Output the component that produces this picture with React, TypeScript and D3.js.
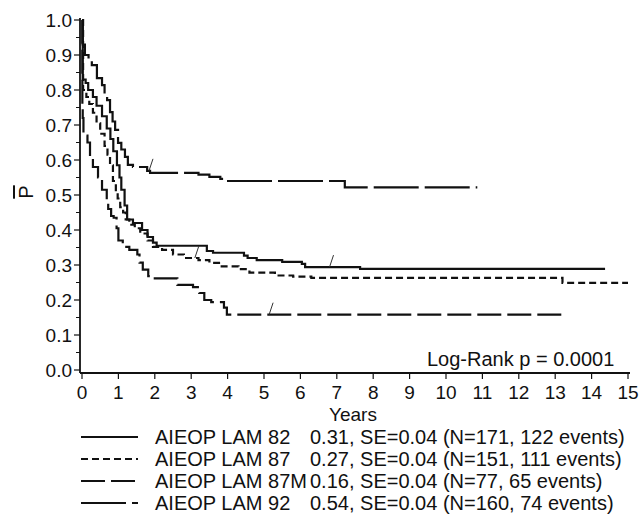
import React from "react";
import * as d3 from "d3";

// ---- data (time in years, event-free survival probability) ----
const yearTicks = d3.range(0, 16);
const probTicks = d3.range(0, 11).map((d) => d / 10);
const probMinor = d3.range(0, 10).map((d) => d / 10 + 0.05);

const lam82: [number, number][] = [
  [0, 1], [0.02, 0.83], [0.1, 0.82], [0.17, 0.8], [0.3, 0.78], [0.4, 0.755],
  [0.55, 0.725], [0.68, 0.69], [0.78, 0.66], [0.86, 0.625], [0.96, 0.585],
  [1.03, 0.55], [1.08, 0.515], [1.17, 0.47], [1.24, 0.43], [1.4, 0.42],
  [1.65, 0.4], [1.8, 0.38], [1.95, 0.364], [2.05, 0.355], [3.43, 0.34],
  [3.6, 0.335], [4.45, 0.327], [4.55, 0.32], [4.8, 0.314], [5.5, 0.309],
  [6.04, 0.303], [6.13, 0.294], [7.64, 0.289], [14.37, 0.289],
];

const lam87: [number, number][] = [
  [0, 1], [0.03, 0.8], [0.12, 0.78], [0.2, 0.76], [0.3, 0.735], [0.4, 0.705],
  [0.5, 0.675], [0.62, 0.64], [0.7, 0.615], [0.77, 0.585], [0.85, 0.54],
  [0.93, 0.51], [0.98, 0.49], [1.05, 0.465], [1.13, 0.45], [1.2, 0.43],
  [1.3, 0.415], [1.45, 0.405], [1.6, 0.39], [1.8, 0.37], [1.95, 0.352],
  [2.2, 0.343], [2.5, 0.33], [2.8, 0.32], [3.2, 0.314], [3.5, 0.306],
  [3.8, 0.296], [4.3, 0.288], [4.6, 0.278], [5.3, 0.27], [5.8, 0.267],
  [6.3, 0.263], [13.2, 0.249], [15, 0.249],
];

const lam87m: [number, number][] = [
  [0, 1], [0.01, 0.75], [0.02, 0.72], [0.04, 0.67], [0.15, 0.65], [0.22, 0.61],
  [0.3, 0.58], [0.44, 0.55], [0.55, 0.515], [0.68, 0.485], [0.72, 0.46],
  [0.8, 0.44], [0.87, 0.435], [0.95, 0.405], [1.0, 0.37], [1.12, 0.352],
  [1.3, 0.343], [1.52, 0.33], [1.58, 0.307], [1.67, 0.287], [1.82, 0.268],
  [1.9, 0.262], [2.62, 0.243], [3.05, 0.237], [3.22, 0.22], [3.36, 0.2],
  [3.55, 0.194], [3.9, 0.178], [3.98, 0.158], [13.2, 0.158],
];

const lam92: [number, number][] = [
  [0, 1], [0.02, 0.93], [0.08, 0.9], [0.18, 0.885], [0.27, 0.871], [0.41, 0.834],
  [0.55, 0.814], [0.62, 0.79], [0.69, 0.771], [0.77, 0.737], [0.84, 0.71],
  [0.91, 0.686], [0.99, 0.649], [1.08, 0.63], [1.18, 0.609], [1.26, 0.586],
  [1.4, 0.58], [1.79, 0.569], [1.87, 0.563], [3.2, 0.558], [3.5, 0.552],
  [3.8, 0.546], [3.95, 0.54], [7.22, 0.522], [10.86, 0.522],
];

const seriesNames = ["AIEOP LAM 82", "AIEOP LAM 87", "AIEOP LAM 87M", "AIEOP LAM 92"];
const seriesStats = [
  "0.31, SE=0.04 (N=171, 122 events)",
  "0.27, SE=0.04 (N=151, 111 events)",
  "0.16, SE=0.04 (N=77, 65 events)",
  "0.54, SE=0.04 (N=160, 74 events)",
];
const seriesData = [lam82, lam87, lam87m, lam92];
const seriesDash = ["none", "7,4", "24,6", "45,6"];
// censoring marks: [series index, time]
const censorMarks: [number, number][] = [[0, 6.8], [1, 3.1], [2, 5.14], [3, 1.84]];

const W = 644;
const H = 519;
const FONT = "'Liberation Sans', Arial, Helvetica, sans-serif";

function valueAt(data: [number, number][], t: number) {
  let v = data[0][1];
  for (const [tt, s] of data) if (tt <= t) v = s;
  return v;
}

export default function App() {
  const x = d3.scaleLinear().domain([0, 15]).range([82, 628]);
  const y = d3.scaleLinear().domain([0, 1]).range([370, 20]);
  const line = d3
    .line<[number, number]>()
    .x((d) => x(d[0]))
    .y((d) => y(d[1]))
    .curve(d3.curveStepAfter);
  const fmt = d3.format(".1f");
  const axisY = 373;
  const axisX = 80;

  return (
    <svg
      width={W}
      height={H}
      style={{ position: "fixed", left: 0, top: 0, background: "#fff" }}
      fontFamily={FONT}
    >
      <rect width={W} height={H} fill="#fff" />
      {/* axes */}
      <line x1={axisX} x2={630} y1={axisY} y2={axisY} stroke="#111" strokeWidth={1.8} />
      <line x1={axisX} x2={axisX} y1={axisY} y2={y(1) - 2} stroke="#111" strokeWidth={1.8} />
      {probTicks.map((p) => (
        <g key={"yt" + p}>
          <line x1={axisX - 6} x2={axisX} y1={y(p)} y2={y(p)} stroke="#111" strokeWidth={1.2} />
          <text x={72} y={y(p) + 7} textAnchor="end" fontSize={19} fill="#111">
            {fmt(p)}
          </text>
        </g>
      ))}
      {probMinor.map((p) => (
        <line key={"ym" + p} x1={axisX - 4} x2={axisX} y1={y(p)} y2={y(p)} stroke="#111" strokeWidth={1} />
      ))}
      {yearTicks.map((t) => (
        <g key={"xt" + t}>
          <line x1={x(t)} x2={x(t)} y1={axisY} y2={axisY + 6} stroke="#111" strokeWidth={1.2} />
          <text x={x(t)} y={399} textAnchor="middle" fontSize={19} fill="#111">
            {t}
          </text>
        </g>
      ))}
      <text x={353} y={421} textAnchor="middle" fontSize={19} fill="#111">
        Years
      </text>
      <text
        transform={`translate(33,192) rotate(-90)`}
        textAnchor="middle"
        fontSize={20}
        fill="#111"
        style={{ textDecoration: "overline" }}
      >
        P
      </text>
      {/* curves */}
      {seriesData.map((d, i) => (
        <path
          key={"s" + i}
          d={line(d) || ""}
          fill="none"
          stroke="#111"
          strokeWidth={2.2}
          strokeDasharray={seriesDash[i]}
        />
      ))}
      {censorMarks.map(([si, t], k) => {
        const px = x(t);
        const py = y(valueAt(seriesData[si], t));
        return (
          <line key={"c" + k} x1={px} y1={py} x2={px + 4} y2={py - 12} stroke="#333" strokeWidth={1} />
        );
      })}
      <text x={427} y={366} fontSize={20} fill="#111">
        Log-Rank p = 0.0001
      </text>
      {/* legend */}
      {seriesNames.map((name, i) => {
        const by = 444 + i * 22;
        return (
          <g key={"lg" + i}>
            <line
              x1={81}
              x2={138}
              y1={by - 7}
              y2={by - 7}
              stroke="#111"
              strokeWidth={2}
              strokeDasharray={seriesDash[i]}
            />
            <text x={155} y={by} fontSize={20} fill="#111">
              {name}
            </text>
            <text x={310} y={by} fontSize={20} fill="#111">
              {seriesStats[i]}
            </text>
          </g>
        );
      })}
    </svg>
  );
}
